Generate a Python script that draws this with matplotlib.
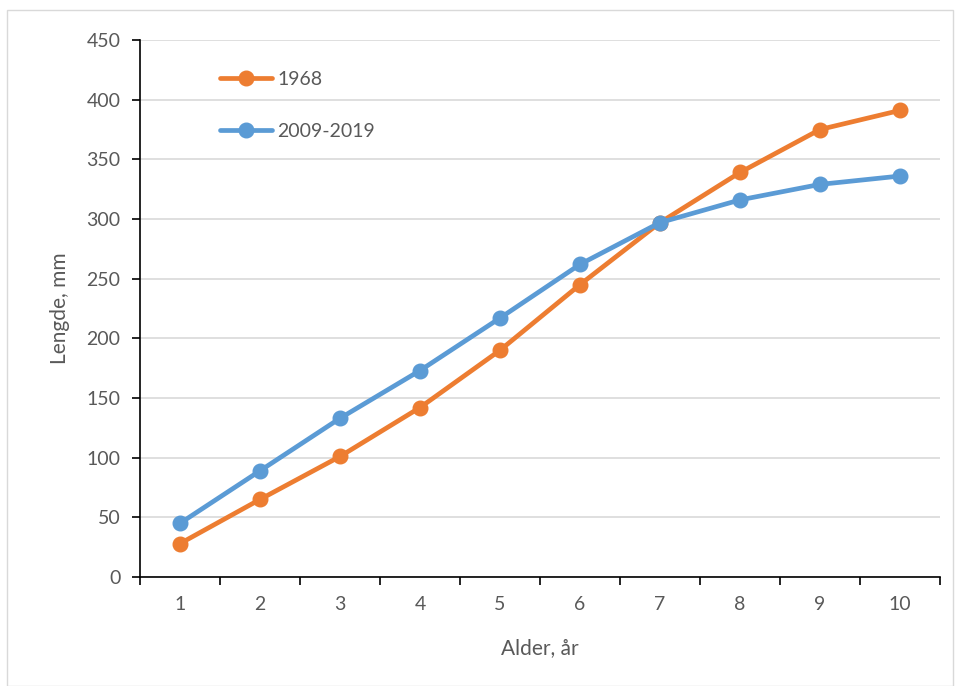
import numpy as np
import matplotlib.pyplot as plt
from matplotlib.patches import Rectangle

# Alder (år) og gjennomsnittlig lengde (mm)
alder = [1, 2, 3, 4, 5, 6, 7, 8, 9, 10]
lengde_1968 = [28, 65, 101, 142, 190, 245, 297, 339, 375, 391]
lengde_2009_2019 = [45, 89, 133, 173, 217, 262, 297, 316, 329, 336]
y_ticks = [0, 50, 100, 150, 200, 250, 300, 350, 400, 450]

plt.rcParams['font.family'] = ['Lato', 'DejaVu Sans']
tekst = '#595959'

fig = plt.figure(figsize=(9.55, 6.86), dpi=100)
ax = fig.add_axes([140 / 955, 1 - 577 / 686, 800 / 955, 537 / 686])

# ramme rundt hele figuren
fig.patches.append(Rectangle((7 / 955, 0), 1 - 7 / 955 - 0.002, 1 - 10 / 686,
                             transform=fig.transFigure, fill=False,
                             edgecolor='#d9d9d9', linewidth=1))

ax.plot(alder, lengde_1968, color='#ED7D31', lw=3.4, marker='o', ms=10.5,
        label='1968', solid_capstyle='round')
ax.plot(alder, lengde_2009_2019, color='#5B9BD5', lw=3.4, marker='o', ms=10.5,
        label='2009-2019', solid_capstyle='round')

ax.set_xlim(0.5, 10.5)
ax.set_ylim(0, 450)
ax.set_yticks(y_ticks)
ax.yaxis.grid(True, color='#d9d9d9', lw=1.2)
ax.set_axisbelow(True)

# kategoriakse: streker mellom kategoriene, etiketter i midten
ax.set_xticks(np.arange(0.5, 11, 1))
ax.set_xticklabels([])
ax.set_xticks(alder, minor=True)
ax.set_xticklabels([str(a) for a in alder], minor=True)
ax.tick_params(axis='x', which='major', length=6, width=1.2, color='black')
ax.tick_params(axis='x', which='minor', length=0, pad=14, labelsize=14, labelcolor=tekst)
ax.tick_params(axis='y', length=6, width=1.2, color='black', labelsize=14,
               labelcolor=tekst, pad=8)

for s in ['top', 'right']:
    ax.spines[s].set_visible(False)
for s in ['left', 'bottom']:
    ax.spines[s].set_linewidth(1.2)

ax.set_xlabel('Alder, år', fontsize=15, color=tekst, labelpad=18)
ax.set_ylabel('Lengde, mm', fontsize=15, color=tekst, labelpad=12)

ax.legend(loc='upper left', bbox_to_anchor=(0.078, 0.975), frameon=False,
          fontsize=14, labelcolor=tekst, handlelength=2.7, handletextpad=0.25,
          labelspacing=1.8)

fig.savefig('out.png', dpi=100)
